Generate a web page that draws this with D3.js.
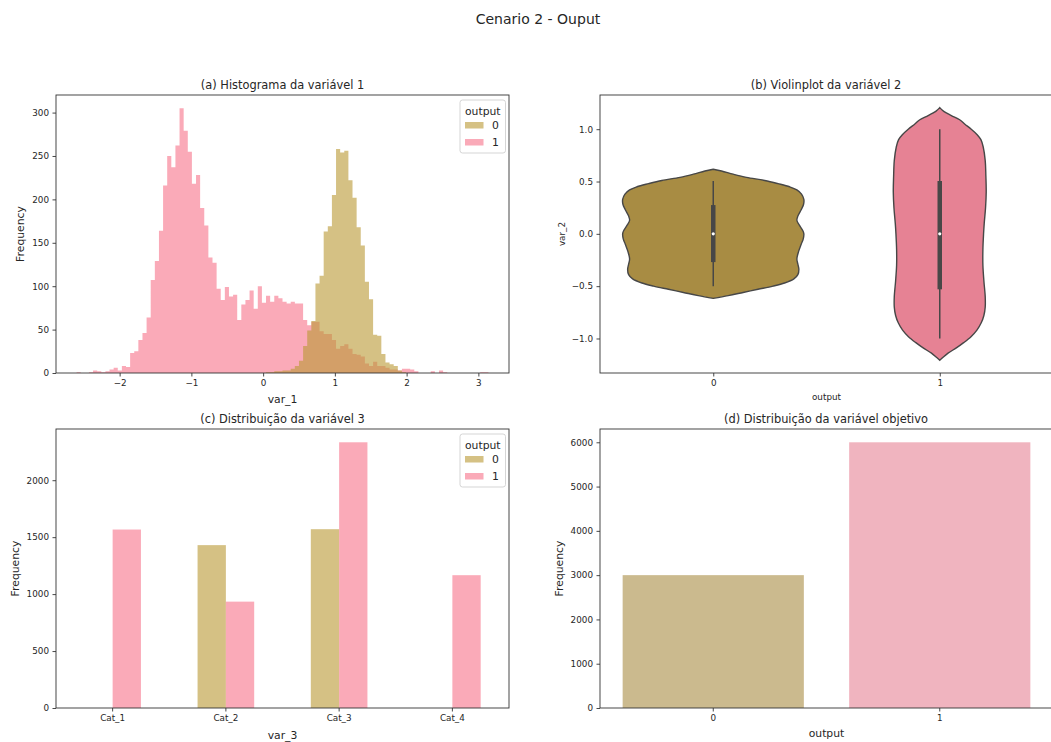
<!DOCTYPE html>
<html>
<head>
<meta charset="utf-8">
<script src="https://cdn.jsdelivr.net/npm/d3@7"></script>
<style>
  body { margin: 0; background: #fff; }
  text { font-family: "DejaVu Sans", sans-serif; fill: #262626; }
</style>
</head>
<body>
<svg id="fig" width="1051" height="742"></svg>
<script>
// ---------------- data ----------------
const outputClasses = ["0", "1"];

// (a) histogram of var_1, common bins for both classes
const var1BinStart = -2.6;
const var1BinWidth = 0.0574;
const var1CountsOut1 = [
  1, 0, 0, 1, 3, 2, 1, 2, 4, 6,
  3, 8, 7, 23, 25, 38, 46, 64, 107, 129,
  164, 216, 250, 237, 262, 305, 279, 255, 218, 228,
  190, 170, 133, 127, 97, 84, 99, 88, 90, 61,
  79, 84, 95, 74, 100, 81, 89, 82, 89, 86,
  82, 80, 82, 80, 80, 61, 55, 59, 59, 48,
  45, 45, 38, 28, 31, 33, 28, 22, 21, 19,
  11, 8, 13, 8, 8, 6, 4, 4, 3, 5,
  5, 4, 2, 0, 0, 0, 2, 0, 3, 1,
  0, 0, 0, 0, 0, 0, 0, 0, 1, 1
];
const var1CountsOut0 = [
  0, 0, 0, 0, 0, 0, 0, 0, 0, 0,
  0, 0, 0, 0, 0, 0, 0, 0, 0, 0,
  0, 0, 0, 0, 0, 0, 0, 0, 0, 0,
  0, 0, 0, 0, 0, 0, 0, 0, 0, 0,
  0, 0, 0, 0, 0, 0, 1, 1, 2, 2,
  3, 3, 5, 8, 14, 31, 49, 60, 103, 112,
  163, 169, 205, 258, 254, 256, 222, 202, 168, 147,
  105, 85, 44, 43, 22, 12, 10, 8, 3, 1,
  0, 0, 0, 0, 0, 0, 0, 0, 0, 0,
  0, 0, 0, 0, 0, 0, 0, 0, 0, 0
];
const var1Ticks = [-2, -1, 0, 1, 2, 3];
const histFreqTicks = [0, 50, 100, 150, 200, 250, 300];

// (b) violin profiles of var_2: [value, relative density]
const var2ProfileOut0 = [
  [0.617, 0], [0.60, 25], [0.57, 60], [0.54, 100], [0.51, 155], [0.48, 195],
  [0.45, 230], [0.42, 252], [0.38, 266], [0.33, 273], [0.28, 272], [0.23, 265],
  [0.17, 255], [0.13, 252], [0.08, 260], [0.03, 270], [0.0, 273], [-0.05, 271],
  [-0.10, 265], [-0.17, 257], [-0.24, 252], [-0.29, 255], [-0.34, 258], [-0.39, 255],
  [-0.43, 243], [-0.47, 215], [-0.50, 180], [-0.53, 135], [-0.56, 90], [-0.59, 45],
  [-0.617, 0]
];
const var2ProfileOut1 = [
  [1.206, 0], [1.17, 12], [1.13, 35], [1.09, 60], [1.05, 75], [1.00, 95],
  [0.95, 112], [0.90, 124], [0.83, 131], [0.70, 137], [0.55, 139], [0.40, 140],
  [0.25, 138], [0.10, 134], [0.0, 132], [-0.15, 130], [-0.30, 130], [-0.45, 133],
  [-0.60, 137], [-0.70, 137], [-0.78, 133], [-0.85, 125], [-0.92, 112], [-0.98, 95],
  [-1.04, 72], [-1.09, 50], [-1.14, 25], [-1.18, 10], [-1.209, 0]
];
// box statistics: [whisker low, q1, median, q3, whisker high]
const var2BoxOut0 = [-0.5, -0.27, 0.0, 0.275, 0.505];
const var2BoxOut1 = [-1.0, -0.53, 0.0, 0.505, 1.0];
const var2Ticks = [-1.0, -0.5, 0.0, 0.5, 1.0];

// (c) counts of var_3 by class
const var3Categories = ["Cat_1", "Cat_2", "Cat_3", "Cat_4"];
const var3CountsOut0 = [0, 1430, 1570, 0];
const var3CountsOut1 = [1567, 934, 2333, 1166];
const var3Ticks = [0, 500, 1000, 1500, 2000];

// (d) class counts of the target
const outputCounts = [3000, 6000];
const outputTicks = [0, 1000, 2000, 3000, 4000, 5000, 6000];

// ---------------- styling ----------------
const histColors = { "0": "#b99832", "1": "#f77189" };
const mutedColors = { "0": "#a88c43", "1": "#e68294" };
const spineColor = "#333";
const tickFont = 8.8, labelFont = 10.8, titleFont = 11.4;
const intFmt = d3.format("d");

const svg = d3.select("#fig");
const fmtMinus = s => String(s).replace("-", "\u2212");

svg.append("text")
  .attr("x", 538).attr("y", 24)
  .attr("text-anchor", "middle")
  .style("font-size", "14px")
  .text("Cenario 2 - Ouput");

function drawSpines(g, box) {
  g.append("rect")
    .attr("x", box.left).attr("y", box.top)
    .attr("width", box.right - box.left).attr("height", box.bottom - box.top)
    .attr("fill", "none").attr("stroke", spineColor).attr("stroke-width", 0.9);
}

function styleAxis(sel) {
  sel.select(".domain").remove();
  sel.selectAll(".tick line").attr("stroke", spineColor).attr("stroke-width", 0.9);
  sel.selectAll(".tick text").style("font-size", tickFont + "px").attr("fill", "#262626");
}

function title(x, box, txt) {
  svg.append("text")
    .attr("x", x).attr("y", box.top - 6)
    .attr("text-anchor", "middle")
    .style("font-size", titleFont + "px")
    .text(txt);
}

function xLabel(box, txt, y, size) {
  svg.append("text")
    .attr("x", (box.left + box.right) / 2).attr("y", y)
    .attr("text-anchor", "middle")
    .style("font-size", size + "px")
    .text(txt);
}

function yLabel(box, txt, x, size) {
  svg.append("text")
    .attr("transform", `translate(${x},${(box.top + box.bottom) / 2}) rotate(-90)`)
    .attr("text-anchor", "middle").attr("dy", "0.35em")
    .style("font-size", size + "px")
    .text(txt);
}

function legend(box, colors, opacity) {
  const g = svg.append("g").attr("transform", `translate(${box.right - 49},${box.top + 5})`);
  g.append("rect").attr("width", 45.5).attr("height", 53).attr("rx", 2.5)
    .attr("fill", "#fff").attr("fill-opacity", 0.8)
    .attr("stroke", "#d0d0d0").attr("stroke-width", 0.9);
  g.append("text").attr("x", 22.8).attr("y", 14.5).attr("text-anchor", "middle")
    .style("font-size", labelFont + "px").text("output");
  outputClasses.forEach((c, i) => {
    const yy = 25 + i * 17;
    g.append("rect").attr("x", 5).attr("y", yy - 3).attr("width", 18.5).attr("height", 6.5)
      .attr("fill", colors[c]).attr("fill-opacity", opacity);
    g.append("text").attr("x", 35.5).attr("y", yy).attr("dy", "0.36em")
      .attr("text-anchor", "middle")
      .style("font-size", labelFont + "px").text(c);
  });
}

// ---------------- (a) histogram ----------------
{
  const box = { left: 56, right: 509, top: 95, bottom: 373 };
  const nBins = var1CountsOut1.length;
  const lo = var1BinStart, hi = var1BinStart + nBins * var1BinWidth;
  const pad = (hi - lo) * 0.05;
  const x = d3.scaleLinear().domain([lo - pad, hi + pad]).range([box.left, box.right]);
  const yMax = d3.max([...var1CountsOut1, ...var1CountsOut0]) * 1.05;
  const y = d3.scaleLinear().domain([0, yMax]).range([box.bottom, box.top]);

  const stepArea = d3.area()
    .x(d => x(d.edge)).y0(y(0)).y1(d => y(d.count))
    .curve(d3.curveStepAfter);
  const toSteps = counts => {
    const pts = counts.map((c, i) => ({ edge: lo + i * var1BinWidth, count: c }));
    pts.push({ edge: hi, count: counts[counts.length - 1] });
    return pts;
  };

  svg.append("path").datum(toSteps(var1CountsOut1))
    .attr("d", stepArea).attr("fill", histColors["1"]).attr("fill-opacity", 0.6);
  svg.append("path").datum(toSteps(var1CountsOut0))
    .attr("d", stepArea).attr("fill", histColors["0"]).attr("fill-opacity", 0.6);

  const gx = svg.append("g").attr("transform", `translate(0,${box.bottom})`)
    .call(d3.axisBottom(x).tickValues(var1Ticks).tickSize(3.5).tickPadding(3.5).tickFormat(d => fmtMinus(d)));
  styleAxis(gx);
  const gy = svg.append("g").attr("transform", `translate(${box.left},0)`)
    .call(d3.axisLeft(y).tickValues(histFreqTicks).tickSize(3.5).tickPadding(3.5).tickFormat(intFmt));
  styleAxis(gy);
  drawSpines(svg, box);
  title(282.5, box, "(a) Histograma da variável 1");
  xLabel(box, "var_1", 403, labelFont);
  yLabel(box, "Frequency", 20.7, labelFont);
  legend(box, histColors, 0.6);
}

// ---------------- (b) violin ----------------
{
  const box = { left: 600, right: 1053, top: 95, bottom: 373 };
  const x = d3.scalePoint().domain(outputClasses).range([box.left, box.right]).padding(0.5);
  const profiles = { "0": var2ProfileOut0, "1": var2ProfileOut1 };
  const boxes = { "0": var2BoxOut0, "1": var2BoxOut1 };
  const allV = [...var2ProfileOut0, ...var2ProfileOut1].map(d => d[0]);
  const vlo = d3.min(allV), vhi = d3.max(allV), vpad = (vhi - vlo) * 0.05;
  const y = d3.scaleLinear().domain([vlo - vpad, vhi + vpad]).range([box.bottom, box.top]);
  const dMax = d3.max([...var2ProfileOut0, ...var2ProfileOut1], d => d[1]);
  const w = d3.scaleLinear().domain([0, dMax]).range([0, 0.4 * x.step()]);

  outputClasses.forEach(c => {
    const cx = x(c);
    const area = d3.area()
      .y(d => y(d[0]))
      .x0(d => cx - w(d[1]))
      .x1(d => cx + w(d[1]))
      .curve(d3.curveCatmullRom.alpha(0.5));
    svg.append("path").datum(profiles[c]).attr("d", area)
      .attr("fill", mutedColors[c]).attr("stroke", "#474747").attr("stroke-width", 1.4);
    const [wl, q1, med, q3, wh] = boxes[c];
    svg.append("line").attr("x1", cx).attr("x2", cx).attr("y1", y(wl)).attr("y2", y(wh))
      .attr("stroke", "#474747").attr("stroke-width", 1.5);
    svg.append("line").attr("x1", cx).attr("x2", cx).attr("y1", y(q1)).attr("y2", y(q3))
      .attr("stroke", "#474747").attr("stroke-width", 4.5);
    svg.append("circle").attr("cx", cx).attr("cy", y(med)).attr("r", 1.6).attr("fill", "#fff");
  });

  const gx = svg.append("g").attr("transform", `translate(0,${box.bottom})`)
    .call(d3.axisBottom(x).tickSize(3.5).tickPadding(3.5));
  styleAxis(gx);
  const gy = svg.append("g").attr("transform", `translate(${box.left},0)`)
    .call(d3.axisLeft(y).tickValues(var2Ticks).tickSize(3.5).tickPadding(3.5)
      .tickFormat(d => fmtMinus(d3.format(".1f")(d))));
  styleAxis(gy);
  drawSpines(svg, box);
  title(826, box, "(b) Violinplot da variável 2");
  xLabel(box, "output", 400, tickFont);
  yLabel(box, "var_2", 561.7, tickFont);
}

// ---------------- (c) grouped bars ----------------
{
  const box = { left: 56, right: 509, top: 429, bottom: 708 };
  const x = d3.scaleBand().domain(var3Categories).range([box.left, box.right]).padding(0);
  const yMax = d3.max([...var3CountsOut0, ...var3CountsOut1]) * 1.05;
  const y = d3.scaleLinear().domain([0, yMax]).range([box.bottom, box.top]);
  const bw = x.bandwidth() * 0.25;
  const series = [
    { cls: "0", counts: var3CountsOut0, offset: -bw },
    { cls: "1", counts: var3CountsOut1, offset: 0 }
  ];
  series.forEach(s => {
    svg.append("g").selectAll("rect")
      .data(var3Categories.map((cat, i) => ({ cat, v: s.counts[i] })).filter(d => d.v > 0))
      .join("rect")
      .attr("x", d => x(d.cat) + x.bandwidth() / 2 + s.offset)
      .attr("width", bw)
      .attr("y", d => y(d.v))
      .attr("height", d => y(0) - y(d.v))
      .attr("fill", histColors[s.cls]).attr("fill-opacity", 0.6);
  });
  const gx = svg.append("g").attr("transform", `translate(0,${box.bottom})`)
    .call(d3.axisBottom(x).tickSize(3.5).tickPadding(3.5));
  styleAxis(gx);
  const gy = svg.append("g").attr("transform", `translate(${box.left},0)`)
    .call(d3.axisLeft(y).tickValues(var3Ticks).tickSize(3.5).tickPadding(3.5).tickFormat(intFmt));
  styleAxis(gy);
  drawSpines(svg, box);
  title(282.5, box, "(c) Distribuição da variável 3");
  xLabel(box, "var_3", 739, labelFont);
  yLabel(box, "Frequency", 15, labelFont);
  legend(box, histColors, 0.6);
}

// ---------------- (d) target counts ----------------
{
  const box = { left: 600, right: 1053, top: 429, bottom: 708 };
  const x = d3.scaleBand().domain(outputClasses).range([box.left, box.right])
    .paddingInner(0.2).paddingOuter(0.1);
  const y = d3.scaleLinear().domain([0, d3.max(outputCounts) * 1.05]).range([box.bottom, box.top]);
  svg.append("g").selectAll("rect")
    .data(outputClasses.map((c, i) => ({ c, v: outputCounts[i] })))
    .join("rect")
    .attr("x", d => x(d.c)).attr("width", x.bandwidth())
    .attr("y", d => y(d.v)).attr("height", d => y(0) - y(d.v))
    .attr("fill", d => mutedColors[d.c]).attr("fill-opacity", 0.6);
  const gx = svg.append("g").attr("transform", `translate(0,${box.bottom})`)
    .call(d3.axisBottom(x).tickSize(3.5).tickPadding(3.5));
  styleAxis(gx);
  const gy = svg.append("g").attr("transform", `translate(${box.left},0)`)
    .call(d3.axisLeft(y).tickValues(outputTicks).tickSize(3.5).tickPadding(3.5).tickFormat(intFmt));
  styleAxis(gy);
  drawSpines(svg, box);
  title(826, box, "(d) Distribuição da variável objetivo");
  xLabel(box, "output", 737, labelFont);
  yLabel(box, "Frequency", 559, labelFont);
}
</script>
</body>
</html>
